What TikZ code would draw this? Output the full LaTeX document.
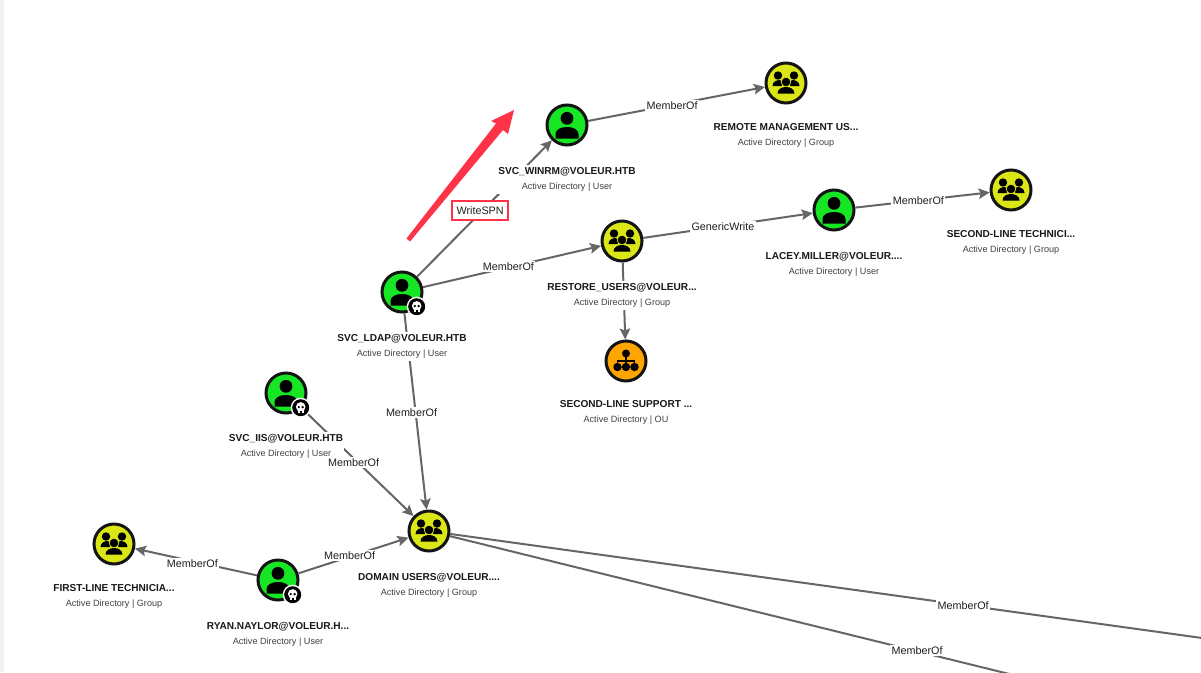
\documentclass[tikz,border=0pt]{standalone}
\usepackage{fontspec}
\setmainfont{Liberation Sans}
\usetikzlibrary{arrows.meta}
\definecolor{usergreen}{HTML}{17E625}
\definecolor{groupyellow}{HTML}{DBE617}
\definecolor{ouorange}{HTML}{FFA500}
\definecolor{edgegray}{HTML}{666666}
\definecolor{alertred}{HTML}{FF3347}
\definecolor{ringblack}{HTML}{141414}
\tikzset{
  x=1pt,y=-1pt,
  entity/.style={circle,draw=ringblack,line width=3pt,minimum size=40pt,inner sep=0pt},
  usernode/.style={entity,fill=usergreen},
  groupnode/.style={entity,fill=groupyellow},
  ounode/.style={entity,fill=ouorange},
  edgeline/.style={draw=edgegray,line width=2pt,-{Stealth[length=11pt,width=10.5pt,inset=2pt]}},
  edgelabel/.style={fill=white,text=black!88,font=\fontsize{10.8}{12}\selectfont,inner xsep=1.5pt,inner ysep=1.5pt},
  alertlabel/.style={edgelabel,draw=alertred,line width=2.6pt,minimum width=56pt,minimum height=19pt,inner sep=0pt},
  captionbox/.style={fill=white,align=center,inner xsep=1pt,inner ysep=2pt,anchor=north,text=black!90,
    font=\fontsize{10.1}{15.4}\selectfont},
  personicon/.pic={
    \fill[black] (0,-6.7) circle[radius=6.4];
    \fill[black] (-11.5,13.5) -- (-11.5,9) .. controls (-11.5,4.5) and (-6,2) .. (0,2)
      .. controls (6,2) and (11.5,4.5) .. (11.5,9) -- (11.5,13.5) -- cycle;
  },
  groupicon/.pic={
    \fill[black] (-8,-7.5) circle[radius=4.2] (8,-7.5) circle[radius=4.2];
    \fill[black] (-13.5,3) .. controls (-13.5,-1.5) and (-9,-3) .. (-6.5,-3) -- (-3,-1) -- (-4.5,3) -- cycle;
    \fill[black] (13.5,3) .. controls (13.5,-1.5) and (9,-3) .. (6.5,-3) -- (3,-1) -- (4.5,3) -- cycle;
    \filldraw[black,draw=groupyellow,line width=0.7pt] (0,-1) circle[radius=4.8];
    \fill[black] (-8.5,10.5) .. controls (-8.5,6) and (-4,4) .. (0,4) .. controls (4,4) and (8.5,6) .. (8.5,10.5) -- cycle;
  },
  ouicon/.pic={
    \draw[black,line width=1.5pt] (0,-7) -- (0,5) (-8.5,5) -- (-8.5,0) -- (8.5,0) -- (8.5,5);
    \fill[black] (0,-7.5) circle[radius=4] (-8.5,6) circle[radius=4.2] (0,6) circle[radius=4.2] (8.5,6) circle[radius=4.2];
  },
  skullbadge/.pic={
    \fill[white] (0,0) circle[radius=10];
    \fill[black] (0,0) circle[radius=8.5];
    \fill[white] (0,-0.8) circle[radius=4.8];
    \fill[white] (-2.8,1) rectangle (2.8,5);
    \fill[black] (-1.9,-0.6) circle[radius=1.3] (1.9,-0.6) circle[radius=1.3];
    \draw[black,line width=0.4pt] (-0.9,3.2) -- (-0.9,5) (0.9,3.2) -- (0.9,5);
  },
}
\newcommand{\entcap}[4][18.5pt]{\node[captionbox] (#2cap) at ([yshift=-#1]#2.south) {\textbf{#3}\\[0pt]{\fontsize{9.1}{10}\selectfont\color{black!75}#4}};}
\begin{document}
\begin{tikzpicture}
\useasboundingbox (0,0) rectangle (1201,672);
\clip (0,0) rectangle (1201,672);
\fill[white] (0,0) rectangle (1201,672);
\fill[black!5] (0,0) rectangle (4,672);

% entities
\node[usernode]  (winrm)   at (567,125) {};
\node[groupnode] (rmu)     at (786,83)  {};
\node[usernode]  (ldap)    at (402,292) {};
\node[groupnode] (restore) at (622,241) {};
\node[usernode]  (lacey)   at (834,210) {};
\node[groupnode] (second)  at (1011,190) {};
\node[ounode]    (support) at (626,361) {};
\node[usernode]  (iis)     at (286,393) {};
\node[groupnode] (domain)  at (429,531) {};
\node[usernode]  (ryan)    at (278,580) {};
\node[groupnode] (first)   at (114,544) {};
\coordinate (offa) at (1231,642);
\coordinate (offb) at (1129,703.5);

% icons
\foreach \n in {winrm,ldap,lacey,iis,ryan} \pic at (\n) {personicon};
\foreach \n in {rmu,restore,second,domain,first} \pic at (\n) {groupicon};
\pic at (support) {ouicon};

% connectors
\draw[edgeline] (restore) -- (support);
\draw[edgeline] (ldap) -- (domain);
\draw[edgeline] (iis) -- (domain);
\draw[edgeline] (ryan) -- (domain);
\draw[edgeline] (ryan) -- (first);
\draw[edgeline] (winrm) -- (rmu);
\draw[edgeline] (ldap) -- (restore);
\draw[edgeline] (restore) -- (lacey);
\draw[edgeline] (lacey) -- (second);
\draw[edgeline] (ldap) -- (winrm);
\draw[edgeline] (domain) -- (offa);
\draw[edgeline] (domain) -- (offb);

% captions
\entcap{winrm}{SVC\_WINRM@VOLEUR.HTB}{Active Directory | User}
\entcap[16.5pt]{rmu}{REMOTE MANAGEMENT US...}{Active Directory | Group}
\entcap{ldap}{SVC\_LDAP@VOLEUR.HTB}{Active Directory | User}
\entcap{restore}{RESTORE\_USERS@VOLEUR...}{Active Directory | Group}
\entcap{lacey}{LACEY.MILLER@VOLEUR....}{Active Directory | User}
\entcap[16.5pt]{second}{SECOND-LINE TECHNICI...}{Active Directory | Group}
\entcap[15.5pt]{support}{SECOND-LINE SUPPORT ...}{Active Directory | OU}
\entcap[17.5pt]{iis}{SVC\_IIS@VOLEUR.HTB}{Active Directory | User}
\entcap{domain}{DOMAIN USERS@VOLEUR....}{Active Directory | Group}
\entcap{ryan}{RYAN.NAYLOR@VOLEUR.H...}{Active Directory | User}
\entcap[16.5pt]{first}{FIRST-LINE TECHNICIA...}{Active Directory | Group}

% connector labels
\path (ldap) -- (domain) node[edgelabel,pos=.5,xshift=-4pt,yshift=-1pt] (l1) {MemberOf};
\path (winrm) -- (rmu) node[edgelabel,pos=.475,yshift=-1pt] (l2) {MemberOf};
\path (ldap) -- (restore) node[edgelabel,pos=.48,yshift=1pt] (l3) {MemberOf};
\path (restore) -- (lacey) node[edgelabel,pos=.47] (l4) {GenericWrite};
\path (lacey) -- (second) node[edgelabel,pos=.47] (l5) {MemberOf};
\path (iis) -- (domain) node[edgelabel,pos=.465,yshift=-4pt] (l6) {MemberOf};
\path (ryan) -- (domain) node[edgelabel,pos=.465,yshift=1pt] (l7) {MemberOf};
\path (ryan) -- (first) node[edgelabel,pos=.53,yshift=-2pt] (l8) {MemberOf};
\path (domain) -- (offa) node[edgelabel,pos=.657,yshift=-1pt] (l9) {MemberOf};
\path (domain) -- (offb) node[edgelabel,pos=.688,yshift=1pt] (l10) {MemberOf};
\path (ldap) -- (winrm) node[alertlabel,pos=.475,xshift=-1pt,yshift=1.5pt] (l11) {WriteSPN};

% skull badges
\pic at ([shift={(14.7,14.7)}]ldap) {skullbadge};
\pic at ([shift={(14.7,14.7)}]iis) {skullbadge};
\pic at ([shift={(14.7,14.7)}]ryan) {skullbadge};

% red annotation arrow
\fill[alertred] (406.5,238.5) -- (410,241.5) -- (503,130) -- (508,134) -- (514,110) -- (491,121) -- (496,123.5) -- cycle;
\end{tikzpicture}
\end{document}
